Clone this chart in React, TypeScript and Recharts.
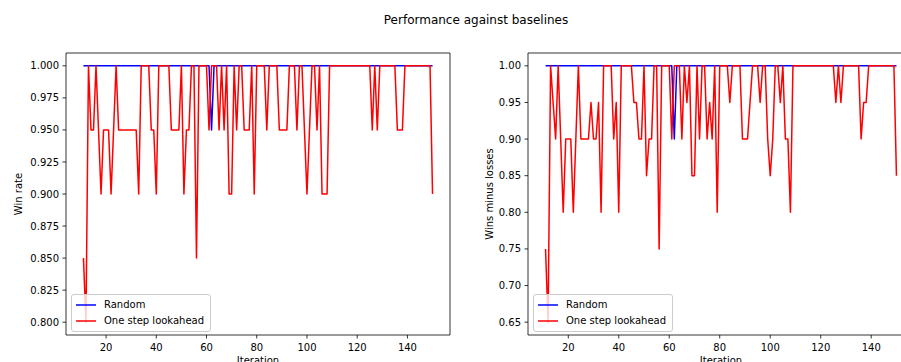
import React from 'react';
import { LineChart, Line, XAxis, YAxis, ReferenceArea, Legend } from 'recharts';

const FONT = '"DejaVu Sans", sans-serif';

const iterations = [
  11, 12, 13, 14, 15, 16, 17, 18, 19, 20,
  21, 22, 23, 24, 25, 26, 27, 28, 29, 30,
  31, 32, 33, 34, 35, 36, 37, 38, 39, 40,
  41, 42, 43, 44, 45, 46, 47, 48, 49, 50,
  51, 52, 53, 54, 55, 56, 57, 58, 59, 60,
  61, 62, 63, 64, 65, 66, 67, 68, 69, 70,
  71, 72, 73, 74, 75, 76, 77, 78, 79, 80,
  81, 82, 83, 84, 85, 86, 87, 88, 89, 90,
  91, 92, 93, 94, 95, 96, 97, 98, 99, 100,
  101, 102, 103, 104, 105, 106, 107, 108, 109, 110,
  111, 112, 113, 114, 115, 116, 117, 118, 119, 120,
  121, 122, 123, 124, 125, 126, 127, 128, 129, 130,
  131, 132, 133, 134, 135, 136, 137, 138, 139, 140,
  141, 142, 143, 144, 145, 146, 147, 148, 149, 150,
];

const randomWinRate = [
  1, 1, 1, 1, 1, 1, 1, 1, 1, 1,
  1, 1, 1, 1, 1, 1, 1, 1, 1, 1,
  1, 1, 1, 1, 1, 1, 1, 1, 1, 1,
  1, 1, 1, 1, 1, 1, 1, 1, 1, 1,
  1, 1, 1, 1, 1, 1, 1, 1, 1, 1,
  1, 0.95, 1, 1, 1, 1, 1, 1, 1, 1,
  1, 1, 1, 1, 1, 1, 1, 1, 1, 1,
  1, 1, 1, 1, 1, 1, 1, 1, 1, 1,
  1, 1, 1, 1, 1, 1, 1, 1, 1, 1,
  1, 1, 1, 1, 1, 1, 1, 1, 1, 1,
  1, 1, 1, 1, 1, 1, 1, 1, 1, 1,
  1, 1, 1, 1, 1, 1, 1, 1, 1, 1,
  1, 1, 1, 1, 1, 1, 1, 1, 1, 1,
  1, 1, 1, 1, 1, 1, 1, 1, 1, 1,
];

const lookaheadWinRate = [
  0.85, 0.8, 1, 0.95, 0.95, 1, 0.95, 0.9, 0.95, 0.95,
  0.95, 0.9, 0.95, 1, 0.95, 0.95, 0.95, 0.95, 0.95, 0.95,
  0.95, 0.95, 0.9, 1, 1, 1, 1, 0.95, 0.95, 0.9,
  1, 1, 1, 1, 1, 0.95, 0.95, 0.95, 0.95, 1,
  0.9, 0.95, 0.95, 1, 1, 0.85, 1, 1, 1, 1,
  0.95, 1, 1, 1, 0.95, 1, 0.95, 1, 0.9, 0.9,
  1, 0.95, 1, 1, 0.95, 0.95, 0.95, 1, 0.9, 1,
  1, 1, 1, 0.95, 1, 1, 1, 1, 0.95, 0.95,
  0.95, 0.95, 1, 1, 1, 0.95, 1, 1, 0.95, 0.9,
  0.95, 1, 1, 0.95, 1, 0.9, 0.9, 0.9, 1, 1,
  1, 1, 1, 1, 1, 1, 1, 1, 1, 1,
  1, 1, 1, 1, 1, 0.95, 1, 0.95, 1, 1,
  1, 1, 1, 1, 1, 0.95, 0.95, 0.95, 1, 1,
  1, 1, 1, 1, 1, 1, 1, 1, 1, 0.9,
];

const randomWinsMinusLosses = [
  1, 1, 1, 1, 1, 1, 1, 1, 1, 1,
  1, 1, 1, 1, 1, 1, 1, 1, 1, 1,
  1, 1, 1, 1, 1, 1, 1, 1, 1, 1,
  1, 1, 1, 1, 1, 1, 1, 1, 1, 1,
  1, 1, 1, 1, 1, 1, 1, 1, 1, 1,
  1, 0.9, 1, 1, 1, 1, 1, 1, 1, 1,
  1, 1, 1, 1, 1, 1, 1, 1, 1, 1,
  1, 1, 1, 1, 1, 1, 1, 1, 1, 1,
  1, 1, 1, 1, 1, 1, 1, 1, 1, 1,
  1, 1, 1, 1, 1, 1, 1, 1, 1, 1,
  1, 1, 1, 1, 1, 1, 1, 1, 1, 1,
  1, 1, 1, 1, 1, 1, 1, 1, 1, 1,
  1, 1, 1, 1, 1, 1, 1, 1, 1, 1,
  1, 1, 1, 1, 1, 1, 1, 1, 1, 1,
];

const lookaheadWinsMinusLosses = [
  0.75, 0.65, 1, 0.95, 0.9, 1, 0.9, 0.8, 0.9, 0.9,
  0.9, 0.8, 0.9, 1, 0.9, 0.9, 0.9, 0.9, 0.95, 0.9,
  0.9, 0.95, 0.8, 1, 1, 1, 1, 0.9, 0.95, 0.8,
  1, 1, 1, 1, 1, 0.95, 0.95, 0.9, 0.9, 1,
  0.85, 0.9, 0.9, 1, 1, 0.75, 1, 1, 1, 1,
  0.9, 1, 1, 1, 0.9, 1, 0.95, 1, 0.85, 0.85,
  1, 0.9, 1, 1, 0.9, 0.95, 0.9, 1, 0.8, 1,
  1, 1, 1, 0.95, 1, 1, 1, 1, 0.9, 0.9,
  0.9, 0.95, 1, 1, 1, 0.95, 1, 1, 0.9, 0.85,
  0.9, 1, 1, 0.95, 1, 0.9, 0.9, 0.8, 1, 1,
  1, 1, 1, 1, 1, 1, 1, 1, 1, 1,
  1, 1, 1, 1, 1, 0.95, 1, 0.95, 1, 1,
  1, 1, 1, 1, 1, 0.9, 0.95, 0.95, 1, 1,
  1, 1, 1, 1, 1, 1, 1, 1, 1, 0.85,
];

const seriesNames = ['Random', 'One step lookahead'];
const xTicks = [20, 40, 60, 80, 100, 120, 140];
const winRateTicks = [0.8, 0.825, 0.85, 0.875, 0.9, 0.925, 0.95, 0.975, 1.0];
const winsMinusLossesTicks = [0.65, 0.7, 0.75, 0.8, 0.85, 0.9, 0.95, 1.0];

const X_DOMAIN: [number, number] = [4.05, 156.95];
const WIN_RATE_DOMAIN: [number, number] = [0.79, 1.01];
const WML_DOMAIN: [number, number] = [0.6325, 1.0175];

const winRateData = iterations.map((it, k) => ({
  iteration: it,
  random: randomWinRate[k],
  lookahead: lookaheadWinRate[k],
}));

const winsMinusLossesData = iterations.map((it, k) => ({
  iteration: it,
  random: randomWinsMinusLosses[k],
  lookahead: lookaheadWinsMinusLosses[k],
}));

function LegendContent(props: any) {
  const payload = [...(props.payload || [])].sort(
    (a: any, b: any) => seriesNames.indexOf(a.value) - seriesNames.indexOf(b.value)
  );
  return (
    <div
      style={{
        background: 'rgba(255,255,255,0.8)',
        border: '1px solid #cccccc',
        borderRadius: 3,
        padding: '4px 6px 4px 4px',
        fontFamily: FONT,
        fontSize: 10,
        color: '#000',
        lineHeight: '12px',
        whiteSpace: 'nowrap',
      }}
    >
      {payload.map((entry: any, idx: number) => (
        <div
          key={idx}
          style={{ display: 'flex', alignItems: 'center', height: 12, marginTop: idx === 0 ? 0 : 4 }}
        >
          <svg width={20} height={4} style={{ display: 'block' }}>
            <line x1={0} y1={2} x2={20} y2={2} stroke={entry.color} strokeWidth={1.5} />
          </svg>
          <span style={{ marginLeft: 8 }}>{entry.value}</span>
        </div>
      ))}
    </div>
  );
}

type PanelProps = {
  data: any[];
  width: number;
  plotWidth: number;
  yDomain: [number, number];
  yTicks: number[];
  digits: number;
  yLabel: string;
  yLabelOffset: number;
};

function Panel({ data, width, plotWidth, yDomain, yTicks, digits, yLabel, yLabelOffset }: PanelProps) {
  const tickStyle = { fill: '#000', fontSize: 10, fontFamily: FONT };
  return (
    <LineChart
      width={width}
      height={362}
      data={data}
      margin={{ top: 53, right: width - 66 - plotWidth, bottom: 0, left: 0 }}
      style={{ fontFamily: FONT }}
    >
      <XAxis
        dataKey="iteration"
        type="number"
        domain={X_DOMAIN}
        ticks={xTicks}
        allowDataOverflow
        interval={0}
        height={27}
        axisLine={false}
        tickLine={{ stroke: '#000', strokeWidth: 0.8 }}
        tickSize={3.5}
        tickMargin={5}
        tick={tickStyle}
        label={{
          value: 'Iteration',
          position: 'insideBottom',
          offset: -2,
          style: { fontSize: 10, fontFamily: FONT, fill: '#000' },
        }}
      />
      <YAxis
        type="number"
        domain={yDomain}
        ticks={yTicks}
        allowDataOverflow
        interval={0}
        width={66}
        axisLine={false}
        tickLine={{ stroke: '#000', strokeWidth: 0.8 }}
        tickSize={3.5}
        tickMargin={3.5}
        tick={tickStyle}
        tickFormatter={(v: number) => v.toFixed(digits)}
        label={{
          value: yLabel,
          angle: -90,
          position: 'insideLeft',
          offset: yLabelOffset,
          style: { fontSize: 10, fontFamily: FONT, fill: '#000', textAnchor: 'middle' },
        }}
      />
      <ReferenceArea
        x1={X_DOMAIN[0]}
        x2={X_DOMAIN[1]}
        y1={yDomain[0]}
        y2={yDomain[1]}
        fill="none"
        fillOpacity={0}
        stroke="#000"
        strokeWidth={0.8}
        ifOverflow="visible"
      />
      <Line
        type="linear"
        dataKey="random"
        name={seriesNames[0]}
        stroke="#0000ff"
        strokeWidth={1.5}
        strokeLinejoin="round"
        dot={false}
        activeDot={false}
        isAnimationActive={false}
      />
      <Line
        type="linear"
        dataKey="lookahead"
        name={seriesNames[1]}
        stroke="#ff0000"
        strokeWidth={1.5}
        strokeLinejoin="round"
        dot={false}
        activeDot={false}
        isAnimationActive={false}
      />
      <Legend
        layout="vertical"
        align="center"
        verticalAlign="middle"
        content={<LegendContent />}
        wrapperStyle={{ left: 71, top: 294, width: 'auto', height: 'auto' }}
      />
    </LineChart>
  );
}

export default function App() {
  return (
    <div
      style={{
        position: 'absolute',
        left: 0,
        top: 0,
        width: 901,
        height: 362,
        overflow: 'hidden',
        background: '#fff',
        fontFamily: FONT,
      }}
    >
      <div
        style={{
          position: 'absolute',
          left: 326,
          top: 13,
          width: 300,
          textAlign: 'center',
          fontSize: 12,
          lineHeight: '14px',
          color: '#000',
        }}
      >
        Performance against baselines
      </div>
      <div style={{ position: 'absolute', left: 0, top: 0 }}>
        <Panel
          data={winRateData}
          width={460}
          plotWidth={384}
          yDomain={WIN_RATE_DOMAIN}
          yTicks={winRateTicks}
          digits={3}
          yLabel="Win rate"
          yLabelOffset={18}
        />
      </div>
      <div style={{ position: 'absolute', left: 462, top: 0 }}>
        <Panel
          data={winsMinusLossesData}
          width={462}
          plotWidth={386}
          yDomain={WML_DOMAIN}
          yTicks={winsMinusLossesTicks}
          digits={2}
          yLabel="Wins minus losses"
          yLabelOffset={27}
        />
      </div>
    </div>
  );
}
